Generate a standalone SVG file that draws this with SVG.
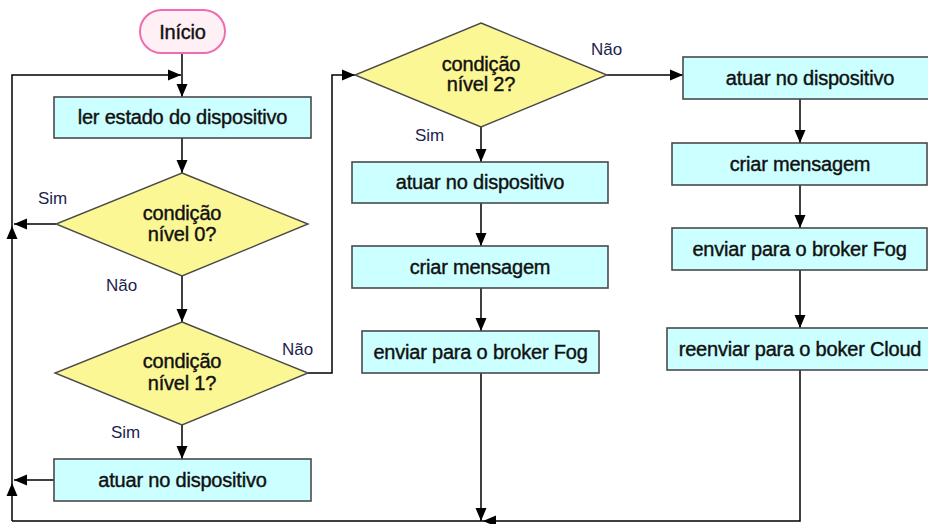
<svg xmlns="http://www.w3.org/2000/svg" width="928" height="524" viewBox="0 0 928 524">
<defs>
<marker id="arr" markerUnits="userSpaceOnUse" markerWidth="14" markerHeight="12" refX="13" refY="6" orient="auto">
<path d="M0,0.5 L13,6 L0,11.5 z" fill="#000"/>
</marker>
<style>
.box{fill:#ccffff;stroke:#4a4a4a;stroke-width:1.6}
.dia{fill:#fbf795;stroke:#4a4a4a;stroke-width:1.4}
.start{fill:#fff0f6;stroke:#f06cb0;stroke-width:2}
.t{font-family:"Liberation Sans",Arial,sans-serif;font-size:20px;fill:#111;stroke:#111;stroke-width:0.4;text-anchor:middle;letter-spacing:-0.2px}
.lb{font-family:"Liberation Sans",Arial,sans-serif;font-size:17px;fill:#1e1e4e}
.c{fill:none;stroke:#000;stroke-width:1.5}
</style>
</defs>
<rect width="928" height="524" fill="#fff"/>

<g id="connectors">
<path class="c" d="M182,53 V97" marker-end="url(#arr)"/>
<path class="c" d="M12,521 V483" marker-end="url(#arr)"/>
<path class="c" d="M12,483 V226" marker-end="url(#arr)"/>
<path class="c" d="M12,226 V75 H181" marker-end="url(#arr)"/>
<path class="c" d="M182,138 V173" marker-end="url(#arr)"/>
<path class="c" d="M56,224 H14" marker-end="url(#arr)"/>
<path class="c" d="M182,276 V322" marker-end="url(#arr)"/>
<path class="c" d="M182,425 V459" marker-end="url(#arr)"/>
<path class="c" d="M54,480 H14" marker-end="url(#arr)"/>
<path class="c" d="M308,373 H332 V75 H355" marker-end="url(#arr)"/>
<path class="c" d="M607,75 H683" marker-end="url(#arr)"/>
<path class="c" d="M481,127 V162" marker-end="url(#arr)"/>
<path class="c" d="M481,203 V246" marker-end="url(#arr)"/>
<path class="c" d="M481,288 V331" marker-end="url(#arr)"/>
<path class="c" d="M481,373 V521" marker-end="url(#arr)"/>
<path class="c" d="M800,99 V143" marker-end="url(#arr)"/>
<path class="c" d="M800,185 V228" marker-end="url(#arr)"/>
<path class="c" d="M800,270 V328" marker-end="url(#arr)"/>
<path class="c" d="M800,370 V521 H483" marker-end="url(#arr)"/>
<path class="c" d="M483,521 H12"/>
</g>

<g id="inicio">
<rect class="start" x="140" y="10" width="85" height="43" rx="21.5"/>
<text class="t" x="182.5" y="38.5">Início</text>
</g>

<g id="ler">
<rect class="box" x="54" y="97" width="257" height="41"/>
<text class="t" x="182.5" y="124">ler estado do dispositivo</text>
</g>

<g id="cond0">
<polygon class="dia" points="182,173 308,224 182,276 56,224"/>
<text class="t" x="182" y="220">condição</text>
<text class="t" x="182" y="241">nível 0?</text>
<text class="lb" x="38" y="204">Sim</text>
<text class="lb" x="106" y="291">Não</text>
</g>

<g id="cond1">
<polygon class="dia" points="182,322 308,373 182,425 55,373"/>
<text class="t" x="182" y="368">condição</text>
<text class="t" x="182" y="390">nível 1?</text>
<text class="lb" x="282" y="355">Não</text>
<text class="lb" x="111" y="438">Sim</text>
</g>

<g id="atuar0">
<rect class="box" x="54" y="459" width="257" height="42"/>
<text class="t" x="182.5" y="487">atuar no dispositivo</text>
</g>

<g id="cond2">
<polygon class="dia" points="481,23 607,75 481,127 355,75"/>
<text class="t" x="481" y="71">condição</text>
<text class="t" x="481" y="91">nível 2?</text>
<text class="lb" x="591" y="55">Não</text>
<text class="lb" x="415" y="141">Sim</text>
</g>

<g id="atuar2">
<rect class="box" x="352" y="162" width="256" height="41"/>
<text class="t" x="480" y="189">atuar no dispositivo</text>
</g>

<g id="criar2">
<rect class="box" x="352" y="246" width="256" height="42"/>
<text class="t" x="480" y="273.5">criar mensagem</text>
</g>

<g id="enviar2">
<rect class="box" x="362" y="331" width="237" height="42"/>
<text class="t" x="480.5" y="358.5">enviar para o broker Fog</text>
</g>

<g id="atuar3">
<rect class="box" x="683" y="57" width="254" height="42"/>
<text class="t" x="810" y="84.5">atuar no dispositivo</text>
</g>

<g id="criar3">
<rect class="box" x="672" y="143" width="255" height="42"/>
<text class="t" x="800" y="170.5">criar mensagem</text>
</g>

<g id="enviar3">
<rect class="box" x="672" y="228" width="255" height="42"/>
<text class="t" x="799.5" y="255.5">enviar para o broker Fog</text>
</g>

<g id="reenviar3">
<rect class="box" x="667" y="328" width="268" height="42"/>
<text class="t" x="800" y="355.5">reenviar para o boker Cloud</text>
</g>
</svg>
